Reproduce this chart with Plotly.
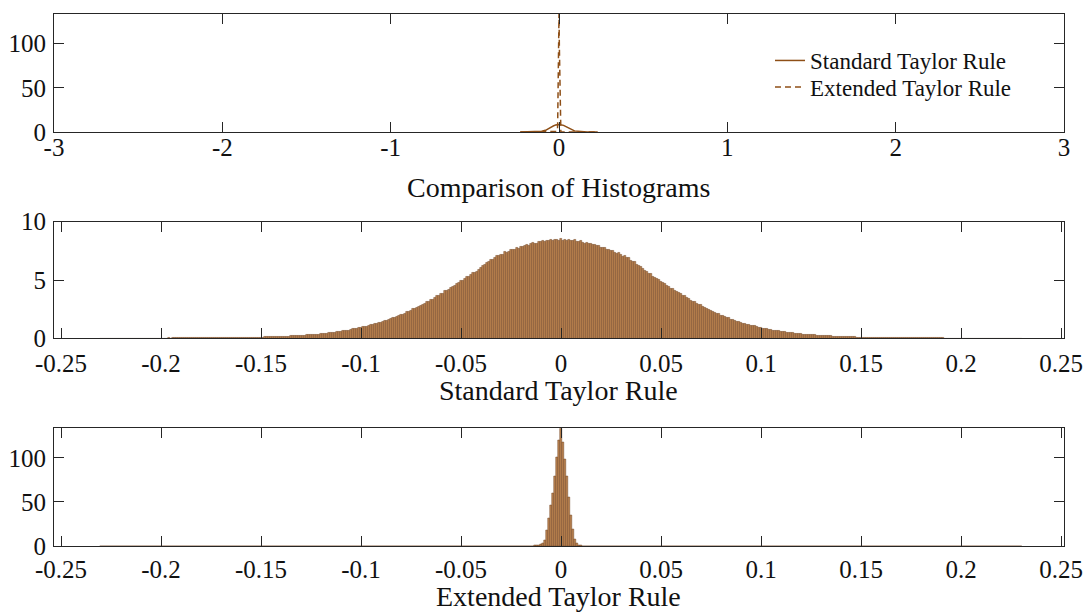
import plotly.graph_objects as go

# ---------------- data ----------------
bin_start = -0.23
bin_width = 0.001

standard_pdf = [
    0.002,0.001,0.003,0.002,0.002,0.003,0.002,0.004,0.003,0.003,
    0.003,0.004,0.003,0.005,0.004,0.003,0.005,0.004,0.006,0.004,
    0.004,0.006,0.005,0.005,0.007,0.006,0.006,0.008,0.007,0.007,
    0.007,0.008,0.009,0.008,0.010,0.009,0.011,0.010,0.012,0.011,
    0.011,0.013,0.012,0.014,0.015,0.014,0.016,0.017,0.016,0.018,
    0.018,0.020,0.021,0.022,0.021,0.024,0.025,0.027,0.026,0.029,
    0.030,0.032,0.034,0.033,0.038,0.039,0.042,0.041,0.046,0.048,
    0.050,0.054,0.055,0.061,0.063,0.066,0.071,0.074,0.078,0.083,
    0.086,0.088,0.097,0.100,0.103,0.113,0.116,0.115,0.132,0.131,
    0.144,0.144,0.154,0.169,0.166,0.182,0.197,0.198,0.204,0.223,
    0.230,0.245,0.246,0.267,0.275,0.296,0.294,0.322,0.345,0.346,
    0.375,0.383,0.422,0.427,0.441,0.476,0.492,0.505,0.549,0.561,
    0.598,0.614,0.644,0.686,0.682,0.736,0.787,0.791,0.806,0.877,
    0.900,0.958,0.965,1.029,1.064,1.134,1.139,1.213,1.275,1.298,
    1.369,1.405,1.504,1.52,1.56,1.67,1.725,1.745,1.88,1.905,
    2.015,2.05,2.135,2.255,2.27,2.38,2.505,2.525,2.59,2.73,
    2.80,2.92,2.965,3.10,3.17,3.33,3.32,3.49,3.615,3.65,
    3.80,3.855,4.055,4.085,4.17,4.35,4.44,4.50,4.70,4.75,
    4.915,4.97,5.10,5.27,5.30,5.465,5.62,5.65,5.725,5.92,
    6.05,6.25,6.27,6.48,6.55,6.77,6.73,6.91,7.05,7.05,
    7.20,7.19,7.39,7.36,7.39,7.56,7.59,7.57,7.76,7.72,
    7.86,7.82,7.91,8.04,7.96,8.09,8.20,8.12,8.11,8.27,
    8.27,8.36,8.27,8.38,8.35,8.48,8.34,8.43,8.48,8.40,
    8.58,
    8.37,8.49,8.39,8.46,8.36,8.36,8.42,8.26,8.32,8.36,
    8.21,8.12,8.19,8.12,8.14,7.99,8.01,7.92,7.96,7.76,
    7.78,7.77,7.62,7.63,7.49,7.55,7.38,7.27,7.30,7.20,
    7.03,7.08,6.90,6.88,6.69,6.61,6.57,6.31,6.26,6.17,
    5.93,5.76,5.73,5.58,5.50,5.305,5.24,5.10,5.055,4.83,
    4.78,4.695,4.52,4.45,4.285,4.265,4.085,3.96,3.92,3.79,
    3.63,3.62,3.46,3.405,3.24,3.17,3.13,2.96,2.90,2.845,
    2.695,2.59,2.56,2.46,2.40,2.275,2.235,2.13,2.11,1.955,
    1.925,1.875,1.76,1.735,1.625,1.63,1.52,1.462,1.432,1.363,
    1.289,1.278,1.201,1.175,1.098,1.067,1.041,0.962,0.946,0.927,
    0.856,0.806,0.812,0.760,0.748,0.692,0.680,0.642,0.632,0.580,
    0.567,0.548,0.509,0.495,0.463,0.462,0.427,0.401,0.396,0.372,
    0.342,0.346,0.316,0.313,0.287,0.276,0.271,0.245,0.242,0.237,
    0.218,0.204,0.203,0.190,0.185,0.167,0.165,0.153,0.153,0.134,
    0.134,0.131,0.118,0.117,0.106,0.108,0.100,0.092,0.092,0.085,
    0.081,0.079,0.073,0.072,0.065,0.064,0.059,0.056,0.053,0.049,
    0.047,0.044,0.043,0.039,0.037,0.036,0.033,0.032,0.031,0.029,
    0.027,0.026,0.025,0.022,0.022,0.020,0.020,0.019,0.017,0.018,
    0.016,0.016,0.014,0.015,0.013,0.012,0.012,0.011,0.010,0.011,
    0.010,0.009,0.009,0.008,0.009,0.007,0.008,0.007,0.006,0.007,
    0.006,0.006,0.005,0.006,0.005,0.004,0.005,0.004,0.004,0.004,
    0.004,0.003,0.004,0.003,0.003,0.003,0.002,0.003,0.003,0.002,
    0.003,0.002,0.002,0.002,0.003,0.002,0.001,0.002,0.002,0.001,
]

extended_pdf = [
    # -0.230 .. -0.021
    0.001,0.001,0.001,0.001,0.001,0.001,0.001,0.001,0.001,0.001,0.001,0.001,0.001,0.001,0.001,0.001,0.001,0.001,0.001,0.001,0.001,
    0.001,0.001,0.001,0.001,0.001,0.001,0.001,0.001,0.001,0.001,0.001,0.001,0.001,0.001,0.001,0.001,0.001,0.001,0.001,0.001,0.001,
    0.001,0.001,0.001,0.001,0.001,0.001,0.001,0.001,0.001,0.001,0.001,0.001,0.001,0.001,0.001,0.001,0.001,0.001,0.001,0.001,0.001,
    0.001,0.001,0.001,0.001,0.001,0.001,0.001,0.001,0.001,0.001,0.001,0.001,0.001,0.001,0.001,0.001,0.001,0.001,0.001,0.001,0.001,
    0.001,0.001,0.001,0.001,0.001,0.001,0.001,0.001,0.001,0.001,0.001,0.001,0.001,0.001,0.001,0.001,0.001,0.001,0.001,0.001,0.001,
    0.001,0.001,0.001,0.001,0.001,0.001,0.001,0.001,0.001,0.001,0.001,0.001,0.001,0.001,0.001,0.001,0.001,0.001,0.001,0.001,0.001,
    0.001,0.001,0.001,0.001,0.001,0.001,0.001,0.001,0.001,0.001,0.001,0.001,0.001,0.001,0.001,0.001,0.001,0.001,0.001,0.001,0.001,
    0.001,0.001,0.001,0.001,0.001,0.001,0.001,0.001,0.001,0.001,0.001,0.001,0.001,0.001,0.001,0.001,0.001,0.001,0.001,0.001,0.001,
    0.001,0.001,0.001,0.001,0.001,0.001,0.001,0.001,0.001,0.001,0.001,0.001,0.001,0.001,0.001,0.001,0.001,0.001,0.001,0.001,0.001,
    0.001,0.001,0.001,0.001,0.001,0.001,0.001,0.001,0.001,0.001,0.002,0.002,0.002,0.003,0.003,0.004,0.005,0.006,0.008,0.010,0.014,
    # -0.020 .. 0.020
    0.02,0.03,0.04,0.06,0.09,0.14,0.22,0.35,0.6,0.9,
    1.5,3.2,7.0,17.5,31,46,60,79,101,120,
    133.5,
    118,98,79,55,35,19,8,3.2,1.2,0.5,
    0.2,0.09,0.05,0.03,0.02,0.015,0.01,0.008,0.006,0.005,
    # 0.021 .. 0.230
    0.004,0.003,0.003,0.002,0.002,0.002,0.001,0.001,0.001,0.001,0.001,0.001,0.001,0.001,0.001,0.001,0.001,0.001,0.001,0.001,0.001,
    0.001,0.001,0.001,0.001,0.001,0.001,0.001,0.001,0.001,0.001,0.001,0.001,0.001,0.001,0.001,0.001,0.001,0.001,0.001,0.001,0.001,
    0.001,0.001,0.001,0.001,0.001,0.001,0.001,0.001,0.001,0.001,0.001,0.001,0.001,0.001,0.001,0.001,0.001,0.001,0.001,0.001,0.001,
    0.001,0.001,0.001,0.001,0.001,0.001,0.001,0.001,0.001,0.001,0.001,0.001,0.001,0.001,0.001,0.001,0.001,0.001,0.001,0.001,0.001,
    0.001,0.001,0.001,0.001,0.001,0.001,0.001,0.001,0.001,0.001,0.001,0.001,0.001,0.001,0.001,0.001,0.001,0.001,0.001,0.001,0.001,
    0.001,0.001,0.001,0.001,0.001,0.001,0.001,0.001,0.001,0.001,0.001,0.001,0.001,0.001,0.001,0.001,0.001,0.001,0.001,0.001,0.001,
    0.001,0.001,0.001,0.001,0.001,0.001,0.001,0.001,0.001,0.001,0.001,0.001,0.001,0.001,0.001,0.001,0.001,0.001,0.001,0.001,0.001,
    0.001,0.001,0.001,0.001,0.001,0.001,0.001,0.001,0.001,0.001,0.001,0.001,0.001,0.001,0.001,0.001,0.001,0.001,0.001,0.001,0.001,
    0.001,0.001,0.001,0.001,0.001,0.001,0.001,0.001,0.001,0.001,0.001,0.001,0.001,0.001,0.001,0.001,0.001,0.001,0.001,0.001,0.001,
    0.001,0.001,0.001,0.001,0.001,0.001,0.001,0.001,0.001,0.001,0.001,0.001,0.001,0.001,0.001,0.001,0.001,0.001,0.001,0.001,0.001,
]

assert len(standard_pdf) == 461, len(standard_pdf)
assert len(extended_pdf) == 461, len(extended_pdf)

bin_centers = [round(bin_start + i * bin_width, 4) for i in range(len(standard_pdf))]

series_names = ["Standard Taylor Rule", "Extended Taylor Rule"]
panel_titles = ["Comparison of Histograms", "Standard Taylor Rule", "Extended Taylor Rule"]

top_xticks = [-3, -2, -1, 0, 1, 2, 3]
top_xlabels = ["-3", "-2", "-1", "0", "1", "2", "3"]
hist_xticks = [-0.25, -0.2, -0.15, -0.1, -0.05, 0, 0.05, 0.1, 0.15, 0.2, 0.25]
hist_xlabels = ["-0.25", "-0.2", "-0.15", "-0.1", "-0.05", "0", "0.05", "0.1", "0.15", "0.2", "0.25"]
big_yticks = [0, 50, 100]
std_yticks = [0, 5, 10]

# ---------------- style ----------------
W, H = 1085, 612
FONT = "Liberation Serif, Times New Roman, serif"
AX = "#262626"
TXT = "#111111"
LINE_COL = "#8E4F17"
BAR_FILL = "#BC8450"
BAR_EDGE = "#6E4320"

def px_x(p):
    return p / W

def ydom(top_px, bot_px):
    return [(H - bot_px) / H, (H - top_px) / H]

x_dom = [px_x(54), px_x(1064)]

fig = go.Figure()

# top: comparison lines
fig.add_trace(go.Scatter(x=bin_centers, y=standard_pdf, mode="lines", name=series_names[0],
                         line=dict(color=LINE_COL, width=1.5), xaxis="x", yaxis="y", legend="legend"))
fig.add_trace(go.Scatter(x=bin_centers, y=extended_pdf, mode="lines", name=series_names[1],
                         line=dict(color=LINE_COL, width=1.5, dash="6px,4px"), xaxis="x", yaxis="y",
                         legend="legend2"))

# middle: standard histogram
fig.add_trace(go.Bar(x=bin_centers, y=standard_pdf, width=bin_width, showlegend=False,
                     marker=dict(color=BAR_FILL, line=dict(color=BAR_EDGE, width=0.5)),
                     xaxis="x2", yaxis="y2"))
# bottom: extended histogram
fig.add_trace(go.Bar(x=bin_centers, y=extended_pdf, width=bin_width, showlegend=False,
                     marker=dict(color=BAR_FILL, line=dict(color=BAR_EDGE, width=0.5)),
                     xaxis="x3", yaxis="y3"))

common = dict(showline=True, linecolor=AX, linewidth=1, mirror="ticks", ticks="inside",
              ticklen=10, tickwidth=1, tickcolor=AX, showgrid=False, zeroline=False,
              automargin=False, tickfont=dict(family=FONT, size=25, color=TXT))

legend_common = dict(xanchor="left", yanchor="middle", bgcolor="rgba(0,0,0,0)", borderwidth=0,
                     font=dict(family=FONT, size=23, color=TXT))

fig.update_layout(
    template="none",
    width=W, height=H,
    margin=dict(l=0, r=0, t=0, b=0),
    paper_bgcolor="white", plot_bgcolor="white",
    barmode="overlay", bargap=0,
    font=dict(family=FONT, color=TXT),
    xaxis=dict(domain=x_dom, anchor="y", range=[-3, 3], tickvals=top_xticks, ticktext=top_xlabels,
               ticklabelstandoff=-7, **common),
    yaxis=dict(domain=ydom(14, 132), anchor="x", range=[0, 133.5], tickvals=big_yticks,
               ticklabelstandoff=2, **common),
    xaxis2=dict(domain=x_dom, anchor="y2", range=[-0.2535, 0.2515], tickvals=hist_xticks, ticktext=hist_xlabels,
                ticklabelstandoff=3, **common),
    yaxis2=dict(domain=ydom(221.7, 338.3), anchor="x2", range=[0, 10], tickvals=std_yticks,
                ticklabelstandoff=2, **common),
    xaxis3=dict(domain=x_dom, anchor="y3", range=[-0.2535, 0.2515], tickvals=hist_xticks, ticktext=hist_xlabels,
                ticklabelstandoff=1, **common),
    yaxis3=dict(domain=ydom(428.3, 546), anchor="x3", range=[0, 133.5], tickvals=big_yticks,
                ticklabelstandoff=2, **common),
    legend=dict(x=px_x(770), y=(H - 60.5) / H, **legend_common),
    legend2=dict(x=px_x(770), y=(H - 87) / H, **legend_common),
    showlegend=True,
)

title_centers = [187, 391, 596]
for txt, yc in zip(panel_titles, title_centers):
    fig.add_annotation(text=txt, xref="paper", yref="paper", x=px_x((54 + 1063) / 2), y=(H - yc) / H,
                       xanchor="center", yanchor="middle", showarrow=False,
                       font=dict(family=FONT, size=28, color=TXT))

fig.write_html("out.html",
               config={"displayModeBar": False},
               post_script="document.body.style.margin='0';document.body.style.overflow='hidden';")
